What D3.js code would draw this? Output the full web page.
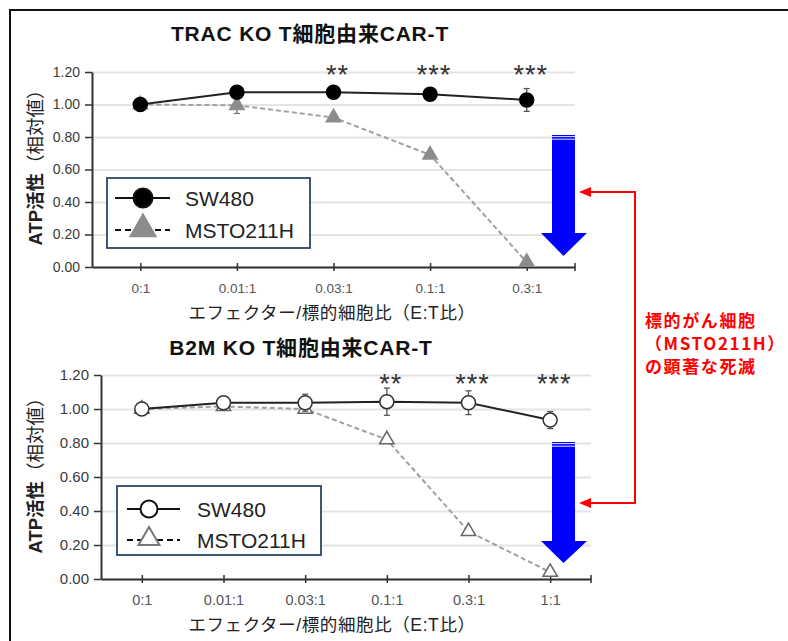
<!DOCTYPE html>
<html>
<head>
<meta charset="utf-8">
<script src="https://cdn.jsdelivr.net/npm/d3@7"></script>
<style>
  body { margin: 0; background: #fff; }
  svg { display: block; }
</style>
</head>
<body>
<script>
// values (ATP activity, relative)
var topTitle = "TRAC KO T細胞由来CAR-T";
var topCats = ["0:1", "0.01:1", "0.03:1", "0.1:1", "0.3:1"];
var topSW = [1.00, 1.075, 1.075, 1.063, 1.028];
var topSWErr = [0.03, 0.02, 0.02, 0.02, 0.07];
var topMS = [1.00, 0.995, 0.92, 0.69, 0.03];
var topMSErr = [0.02, 0.05, 0.02, 0.02, 0.02];
var topStars = ["", "", "**", "***", "***"];

var botTitle = "B2M KO T細胞由来CAR-T";
var botCats = ["0:1", "0.01:1", "0.03:1", "0.1:1", "0.3:1", "1:1"];
var botSW = [1.00, 1.037, 1.037, 1.043, 1.037, 0.935];
var botSWErr = [0.02, 0.02, 0.05, 0.08, 0.07, 0.05];
var botMS = [1.00, 1.015, 1.00, 0.82, 0.28, 0.04];
var botMSErr = [0.01, 0.01, 0.01, 0.01, 0.01, 0.01];
var botStars = ["", "", "", "**", "***", "***"];

var yTicks = [0, 0.2, 0.4, 0.6, 0.8, 1.0, 1.2];
var seriesNames = ["SW480", "MSTO211H"];
var xTitle = "エフェクター/標的細胞比（E:T比）";
var noteLines = ["標的がん細胞", "（MSTO211H）", "の顕著な死滅"];

var FONT = "'Liberation Sans', Arial, 'Noto Sans CJK JP', sans-serif";
var W = 788, H = 641;

var svg = d3.select("body").append("svg")
    .attr("width", W)
    .attr("height", H)
    .style("font-family", FONT);

// outer frame (only top and left edges show in the picture)
svg.append("line").attr("x1", 9).attr("y1", 10).attr("x2", W).attr("y2", 10)
    .attr("stroke", "#111").attr("stroke-width", 2);
svg.append("line").attr("x1", 10).attr("y1", 9).attr("x2", 10).attr("y2", H)
    .attr("stroke", "#111").attr("stroke-width", 2);

function drawPanel(p) {
  var g = svg.append("g");
  var x = d3.scalePoint().domain(p.cats).range([p.left, p.right]).padding(0.5);
  var y = d3.scaleLinear().domain([0, 1.2]).range([p.bottom, p.top]);

  // gridlines
  g.append("g")
      .attr("transform", "translate(" + p.left + ",0)")
      .call(d3.axisLeft(y).tickValues(yTicks).tickSize(-(p.right - p.left)).tickFormat(""))
      .call(s => s.select(".domain").remove())
      .selectAll("line").attr("stroke", "#e4e4e4").attr("stroke-width", 2);

  // y axis
  var ya = g.append("g")
      .attr("transform", "translate(" + p.left + ",0)")
      .call(d3.axisLeft(y).tickValues(yTicks).tickFormat(d3.format(".2f")).tickSizeInner(7).tickSizeOuter(0).tickPadding(5));
  ya.select(".domain").attr("stroke", "#333").attr("stroke-width", 2);
  ya.selectAll(".tick line").attr("stroke", "#333").attr("stroke-width", 1.5);
  ya.selectAll("text").attr("font-size", p.tickFont).attr("fill", "#3a3a3a").attr("font-family", FONT);

  // x axis
  var xa = g.append("g")
      .attr("transform", "translate(0," + p.bottom + ")")
      .call(d3.axisBottom(x).tickSizeInner(4).tickSizeOuter(0).tickPadding(12));
  xa.select(".domain").attr("stroke", "#333").attr("stroke-width", 2);
  xa.selectAll(".tick line").attr("y1", -4).attr("stroke", "#333").attr("stroke-width", 1.5);
  xa.selectAll("text").attr("font-size", p.tickFont - 0.5).attr("fill", "#555").attr("font-family", FONT);
  xa.append("line").attr("x1", p.right).attr("x2", p.right).attr("y1", -4).attr("y2", 4)
      .attr("stroke", "#333").attr("stroke-width", 1.5);

  // titles
  g.append("text").attr("x", p.titleX).attr("y", p.titleY)
      .attr("text-anchor", "middle").attr("font-size", 21).attr("font-weight", "bold")
      .attr("letter-spacing", 0.8).attr("fill", "#111").text(p.title);
  g.append("text").attr("x", 332).attr("y", p.xTitleY)
      .attr("text-anchor", "middle").attr("font-size", 17.5).attr("fill", "#222")
      .attr("letter-spacing", 0.6).text(xTitle);
  var yl = g.append("text")
      .attr("transform", "translate(42," + p.yLabelY + ") rotate(-90)")
      .attr("text-anchor", "middle").attr("font-size", 18.5).attr("fill", "#222");
  yl.append("tspan").attr("font-weight", "bold").text("ATP活性");
  yl.append("tspan").text("（相対値）");

  // MSTO211H series (dashed gray)
  var line = d3.line().x((d, i) => x(p.cats[i])).y(d => y(d));
  g.append("path").datum(p.ms).attr("d", line)
      .attr("fill", "none").attr("stroke", "#a0a0a0").attr("stroke-width", 2).attr("stroke-dasharray", "5,3");
  errBars(g, x, y, p.cats, p.ms, p.msErr, "#777");
  g.selectAll(".tri").data(p.ms).enter().append("path")
      .attr("transform", (d, i) => "translate(" + x(p.cats[i]) + "," + y(d) + ")")
      .attr("d", d3.symbol(d3.symbolTriangle, 90)())
      .attr("fill", p.open ? "#fff" : "#8c8c8c")
      .attr("stroke", p.open ? "#666" : "#8c8c8c").attr("stroke-width", 1.5);

  // SW480 series (solid black)
  g.append("path").datum(p.sw).attr("d", line)
      .attr("fill", "none").attr("stroke", "#222").attr("stroke-width", 2);
  errBars(g, x, y, p.cats, p.sw, p.swErr, "#555");
  g.selectAll(".dot").data(p.sw).enter().append("circle")
      .attr("cx", (d, i) => x(p.cats[i])).attr("cy", d => y(d)).attr("r", 7)
      .attr("fill", p.open ? "#fff" : "#000")
      .attr("stroke", p.open ? "#333" : "#000").attr("stroke-width", 1.5);

  // significance stars
  g.selectAll(".star").data(p.stars).enter().append("text")
      .attr("x", (d, i) => x(p.cats[i]) + 4).attr("y", p.starY)
      .attr("text-anchor", "middle").attr("font-size", 27).attr("fill", "#333")
      .attr("letter-spacing", 1).text(d => d);

  // legend
  var L = p.legend;
  var lg = g.append("g");
  lg.append("rect").attr("x", L.x).attr("y", L.y).attr("width", L.w).attr("height", L.h)
      .attr("fill", "#fff").attr("stroke", "#2a4664").attr("stroke-width", 1.8);
  lg.append("line").attr("x1", L.lx1).attr("x2", L.lx2).attr("y1", L.y1).attr("y2", L.y1)
      .attr("stroke", "#111").attr("stroke-width", 2);
  lg.append("circle").attr("cx", L.mx).attr("cy", L.y1).attr("r", L.r)
      .attr("fill", p.open ? "#fff" : "#000").attr("stroke", "#111").attr("stroke-width", 2);
  lg.append("line").attr("x1", L.lx1).attr("x2", L.lx2).attr("y1", L.y2).attr("y2", L.y2)
      .attr("stroke", "#111").attr("stroke-width", 2).attr("stroke-dasharray", "6,4");
  lg.append("path").attr("transform", "translate(" + L.mx + "," + (L.y2 - 1) + ")")
      .attr("d", d3.symbol(d3.symbolTriangle, L.triArea)())
      .attr("fill", p.open ? "#fff" : "#8c8c8c").attr("stroke", p.open ? "#777" : "#8c8c8c").attr("stroke-width", 2);
  lg.selectAll(".lt").data(seriesNames).enter().append("text")
      .attr("x", L.tx).attr("y", (d, i) => (i ? L.y2 : L.y1) + 8)
      .attr("font-size", 21).attr("fill", "#222").text(d => d);

  // blue down arrow
  var a = p.arrow;
  g.append("path")
      .attr("d", "M" + a.x0 + "," + a.top + "H" + a.x1 + "V" + a.head + "H" + (a.x1 + 12) +
          "L" + ((a.x0 + a.x1) / 2) + "," + a.tip + "L" + (a.x0 - 11) + "," + a.head + "H" + a.x0 + "Z")
      .attr("fill", "#0000ff");
  [1.6, 4.2].forEach(dy => {
    g.append("line").attr("x1", a.x0).attr("x2", a.x1).attr("y1", a.top + dy).attr("y2", a.top + dy)
        .attr("stroke", "#fff").attr("stroke-width", 0.9);
  });
}

function errBars(g, x, y, cats, vals, errs, col) {
  vals.forEach((v, i) => {
    var cx = x(cats[i]);
    var y1 = y(v - errs[i]), y2 = y(v + errs[i]);
    g.append("line").attr("x1", cx).attr("x2", cx).attr("y1", y1).attr("y2", y2)
        .attr("stroke", col).attr("stroke-width", 1.3);
    [y1, y2].forEach(yy => g.append("line").attr("x1", cx - 3).attr("x2", cx + 3)
        .attr("y1", yy).attr("y2", yy).attr("stroke", col).attr("stroke-width", 1.3));
  });
}

drawPanel({
  title: topTitle, titleX: 310, titleY: 41,
  cats: topCats, sw: topSW, swErr: topSWErr, ms: topMS, msErr: topMSErr, stars: topStars,
  left: 92, right: 575, top: 72, bottom: 267,
  tickFont: 14, xTitleY: 319, yLabelY: 163, starY: 84, open: false,
  legend: {x: 107, y: 178, w: 203, h: 70, lx1: 115, lx2: 170, mx: 143, y1: 198, y2: 230,
           r: 9.5, triArea: 270, tx: 185},
  arrow: {x0: 552, x1: 575, top: 135, head: 233, tip: 256}
});

drawPanel({
  title: botTitle, titleX: 301, titleY: 355,
  cats: botCats, sw: botSW, swErr: botSWErr, ms: botMS, msErr: botMSErr, stars: botStars,
  left: 101, right: 591, top: 375, bottom: 579,
  tickFont: 15, xTitleY: 631, yLabelY: 471, starY: 393, open: true,
  legend: {x: 117, y: 486, w: 204, h: 69, lx1: 127, lx2: 180, mx: 149, y1: 509, y2: 540,
           r: 8.5, triArea: 190, tx: 197},
  arrow: {x0: 552, x1: 575, top: 442, head: 541, tip: 563}
});

// red bracket connecting both arrows
var red = "#ff0000";
svg.append("path")
    .attr("d", "M588,192H635V503H588")
    .attr("fill", "none").attr("stroke", red).attr("stroke-width", 2);
[192, 503].forEach(yy => {
  svg.append("path").attr("d", "M579," + yy + "L591," + (yy - 5) + "L591," + (yy + 5) + "Z").attr("fill", red);
});
svg.selectAll(".note").data(noteLines).enter().append("text")
    .attr("x", 645).attr("y", (d, i) => 327 + i * 23)
    .attr("font-size", 17).attr("font-weight", "bold").attr("fill", red)
    .attr("letter-spacing", 1.6)
    .attr("font-family", "'Noto Sans CJK JP', sans-serif")
    .text(d => d);
</script>
</body>
</html>
